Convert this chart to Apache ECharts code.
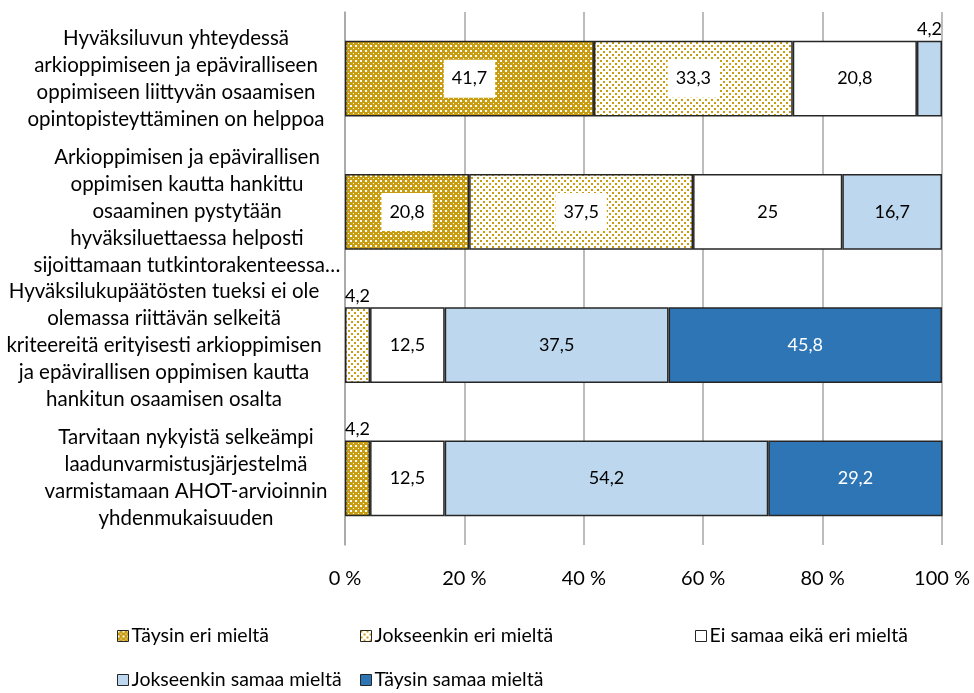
<!DOCTYPE html>
<html>
<head>
<meta charset="utf-8">
<script src="https://cdn.jsdelivr.net/npm/echarts@6/dist/echarts.min.js"></script>
<style>
  html, body { margin: 0; padding: 0; background: #fff; }
  #main { width: 974px; height: 693px; }
</style>
</head>
<body>
<div id="main"></div>
<script>
var categories = [
	'Hyväksiluvun yhteydessä\narkioppimiseen ja epäviralliseen\noppimiseen liittyvän osaamisen\nopintopisteyttäminen on helppoa',
	'Arkioppimisen ja epävirallisen\noppimisen kautta hankittu\nosaaminen pystytään\nhyväksiluettaessa helposti\nsijoittamaan tutkintorakenteessa…',
	'Hyväksilukupäätösten tueksi ei ole\nolemassa riittävän selkeitä\nkriteereitä erityisesti arkioppimisen\nja epävirallisen oppimisen kautta\nhankitun osaamisen osalta',
	'Tarvitaan nykyistä selkeämpi\nlaadunvarmistusjärjestelmä\nvarmistamaan AHOT-arvioinnin\nyhdenmukaisuuden'
];
var seriesNames = ['Täysin eri mieltä', 'Jokseenkin eri mieltä', 'Ei samaa eikä eri mieltä', 'Jokseenkin samaa mieltä', 'Täysin samaa mieltä'];
var taysinEri = [41.7, 20.8, 0, 4.2];
var jokseenkinEri = [33.3, 37.5, 4.2, 0];
var eiSamaaEikaEri = [20.8, 25, 12.5, 12.5];
var jokseenkinSamaa = [4.2, 16.7, 37.5, 54.2];
var taysinSamaa = [0, 0, 45.8, 29.2];
var xTicks = [0, 20, 40, 60, 80, 100];

var gold = '#c99d12';

// kuviot (Excel-tyyliset täytteet)
function makePattern(size, bg, fg, dots) {
	var c = document.createElement('canvas');
	c.width = size; c.height = size;
	var ctx = c.getContext('2d');
	ctx.fillStyle = bg;
	ctx.fillRect(0, 0, size, size);
	ctx.fillStyle = fg;
	dots.forEach(function(d) { ctx.fillRect(d[0], d[1], d[2], d[3]); });
	return c;
}
var densePattern = makePattern(5, gold, '#ffffff', [[0, 0, 2, 2], [3, 3, 1, 1]]);
var sparsePattern = makePattern(6, '#ffffff', gold, [[0, 0, 2, 2], [3, 3, 2, 2]]);

var fills = [
	{image: densePattern, repeat: 'repeat'},
	{image: sparsePattern, repeat: 'repeat'},
	'#ffffff',
	'#bdd7ee',
	'#2e75b6'
];
var labelColors = ['#000', '#000', '#000', '#000', '#fff'];
var labelBoxes = [true, true, false, false, false];
var values = [taysinEri, jokseenkinEri, eiSamaaEikaEri, jokseenkinSamaa, taysinSamaa];

function fmt(v) {
	return String(v).replace('.', ',');
}

// kategoriatekstien vaakasiirto px (Excelin tekstilaatikot eivät ole samassa kohdassa)
var labelShift = [-2, 9, -14, 8];
var rich = {};
labelShift.forEach(function(s, i) {
	rich['s' + i] = {
		fontFamily: 'Lato',
		fontSize: 20.5,
		lineHeight: 27,
		color: '#000',
		padding: s > 0 ? [0, 0, 0, 2 * s] : [0, -2 * s, 0, 0]
	};
});

var series = values.map(function(arr, si) {
	return {
		name: seriesNames[si],
		type: 'bar',
		stack: 'total',
		barWidth: '57%',
		itemStyle: {
			color: fills[si],
			borderColor: '#262626',
			borderWidth: 1.5
		},
		data: arr.map(function(v) {
			if (v === 0) return '-';
			var small = v < 5;
			return {
				value: v,
				label: {
					show: true,
					position: small ? 'top' : 'inside',
					distance: 2,
					formatter: function(p) { return fmt(p.value); },
					color: small ? '#000' : labelColors[si],
					fontFamily: 'Lato',
					fontSize: 18,
					backgroundColor: (!small && labelBoxes[si]) ? '#fff' : 'transparent',
					padding: (!small && labelBoxes[si]) ? [10, 8] : 0
				}
			};
		})
	};
});

var legendPos = [[117, 626], [360, 626], [695, 626], [117, 670], [360, 670]];
var legends = seriesNames.map(function(n, i) {
	return {
		data: [n],
		left: legendPos[i][0],
		top: legendPos[i][1],
		itemWidth: 11,
		itemHeight: 11,
		itemGap: 3,
		padding: 0,
		icon: 'rect',
		itemStyle: { borderColor: '#262626', borderWidth: 1 },
		textStyle: { fontFamily: 'Lato', fontSize: 19.5, color: '#000', padding: [0, 0, 0, -2] }
	};
});

var option = {
	animation: false,
	backgroundColor: '#fff',
	grid: { left: 345, right: 32, top: 12, bottom: 148, outerBoundsMode: 'none' },
	legend: legends,
	xAxis: {
		type: 'value',
		min: 0,
		max: 100,
		interval: 20,
		axisLine: { show: false },
		axisTick: { show: false },
		axisLabel: {
			formatter: '{value} %',
			fontFamily: 'Lato',
			fontSize: 20,
			color: '#000',
			margin: 24
		},
		splitLine: { lineStyle: { color: '#a6a6a6', width: 1.5 } }
	},
	yAxis: {
		type: 'category',
		inverse: true,
		data: categories,
		axisLine: { lineStyle: { color: '#a6a6a6', width: 1.5 } },
		axisTick: { show: false },
		axisLabel: {
			align: 'center',
			margin: 167,
			fontFamily: 'Lato',
			fontSize: 20.5,
			lineHeight: 27,
			color: '#000',
			formatter: function(value, index) {
				return value.split('\n').map(function(line) {
					return '{s' + index + '|' + line + '}';
				}).join('\n');
			},
			rich: rich
		}
	},
	series: series
};

var myChart = echarts.init(document.getElementById('main'));
myChart.setOption(option);
</script>
</body>
</html>
